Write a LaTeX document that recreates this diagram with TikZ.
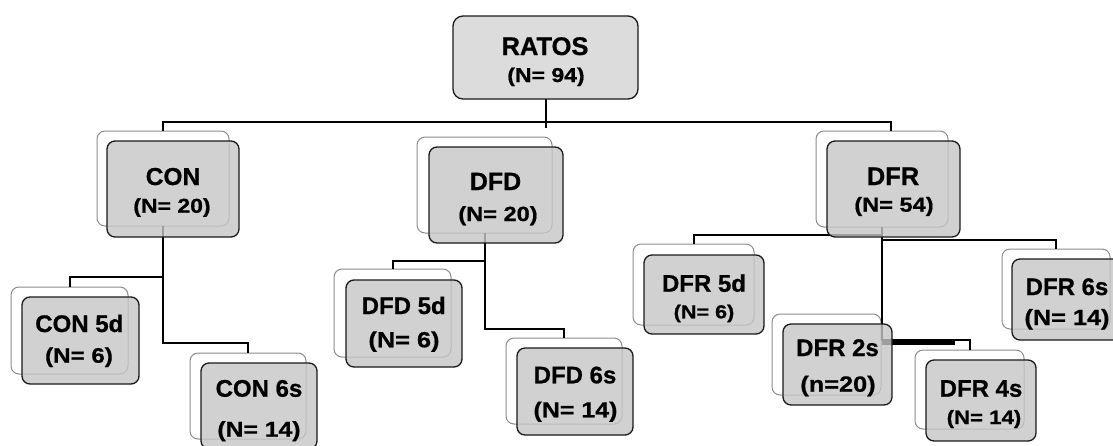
\documentclass[tikz,border=0pt]{standalone}
\usepackage{fontspec}
\setmainfont{Liberation Sans}[BoldFeatures={FakeBold=0.8}]
\newfontfamily\widefont{Liberation Sans}[FakeStretch=1.15,BoldFeatures={FakeBold=0.8}]
\newcommand\headf[1]{\fontsize{#1}{#1}\selectfont\bfseries}
\newcommand\countf[1]{\widefont\fontsize{#1}{#1}\selectfont\bfseries}
\definecolor{boxgray}{HTML}{C6C6C6}
\definecolor{rootgray}{HTML}{DCDCDC}
\definecolor{ghostline}{HTML}{8C8C8C}
\pgfdeclarelayer{under}
\pgfsetlayers{under,main}
\begin{document}
\begin{tikzpicture}[x=1pt,y=-1pt,
  frontbox/.style={rectangle, rounded corners=8pt, draw=black!90, line width=1.3pt,
    fill=boxgray, fill opacity=0.8, inner sep=0pt, outer sep=0pt},
  backbox/.style={rectangle, rounded corners=8pt, draw=ghostline, line width=1pt,
    fill=white, inner sep=0pt, outer sep=0pt},
  rootbox/.style={rectangle, rounded corners=10pt, draw=black!90, line width=1.3pt,
    fill=rootgray, inner sep=0pt, outer sep=0pt},
  txt/.style={anchor=base, inner sep=0pt, text=black},
  conn/.style={draw=black, line width=2pt},
  bar/.style={draw=black, line width=5pt}]
\useasboundingbox (0,0) rectangle (1113,445);

% root
\node[rootbox, minimum width=185, minimum height=83] (ratos) at (545.5,57.5) {};

% front boxes
\node[frontbox, minimum width=132, minimum height=96] (con)   at (173,189) {};
\node[frontbox, minimum width=134, minimum height=96] (dfd)   at (496,195) {};
\node[frontbox, minimum width=133, minimum height=96] (dfr)   at (893.5,189) {};
\node[frontbox, minimum width=117, minimum height=87] (con5d) at (80.5,340.5) {};
\node[frontbox, minimum width=116, minimum height=86] (con6s) at (259,406) {};
\node[frontbox, minimum width=116, minimum height=87] (dfd5d) at (404,323.5) {};
\node[frontbox, minimum width=116, minimum height=87] (dfd6s) at (575,391.5) {};
\node[frontbox, minimum width=120, minimum height=79] (dfr5d) at (704,294.5) {};
\node[frontbox, minimum width=109, minimum height=81] (dfr6s) at (1066.5,299.5) {};
\node[frontbox, minimum width=109, minimum height=81] (dfr2s) at (837.5,364.5) {};
\node[frontbox, minimum width=110, minimum height=81] (dfr4s) at (981,400.5) {};

\begin{pgfonlayer}{under}
% back boxes
\node[backbox, minimum width=132, minimum height=95] (con-b)   at (163,178.5) {};
\node[backbox, minimum width=135, minimum height=96] (dfd-b)   at (484.5,185) {};
\node[backbox, minimum width=132, minimum height=96] (dfr-b)   at (882,179) {};
\node[backbox, minimum width=117, minimum height=87] (con5d-b) at (69.5,330.5) {};
\node[backbox, minimum width=116, minimum height=86] (con6s-b) at (248,396) {};
\node[backbox, minimum width=117, minimum height=88] (dfd5d-b) at (392.5,313) {};
\node[backbox, minimum width=116, minimum height=86] (dfd6s-b) at (564,381) {};
\node[backbox, minimum width=121, minimum height=81] (dfr5d-b) at (693.5,284.5) {};
\node[backbox, minimum width=108, minimum height=80] (dfr6s-b) at (1056,289) {};
\node[backbox, minimum width=109, minimum height=81] (dfr2s-b) at (826.5,354.5) {};
\node[backbox, minimum width=109, minimum height=79] (dfr4s-b) at (969.5,389.5) {};

% connectors
\draw[conn] (ratos.south) -- ++(0,29);
\draw[conn] (con-b.north) -- ++(0,-9) -| ([xshift=9pt]dfr-b.north);

\draw[conn] (con-b.south) -- ++(0,117) -| (con6s-b.north);
\draw[conn] (con5d-b.north) -- ++(0,-10) -| (con-b.south);

\draw[conn] (dfd-b.south) -- ++(0,96) -| (dfd6s-b.north);
\draw[conn] (dfd5d-b.north) -- ++(0,-8) -| (dfd-b.south);

\draw[conn] (dfr5d-b.north) -- ++(0,-9) -| (dfr-b.south);
\draw[conn] (dfr6s-b.north) -- ++(0,-9) -| (dfr-b.south);
\draw[conn] (dfr-b.south) -- ++(0,113) -| (dfr4s-b.north);
\draw[bar] (dfr-b.south) ++(0,115) -- ++(73,0);
\end{pgfonlayer}

% labels
\node[txt, font=\headf{25.5}] (ratos-l1) at (545,55) {RATOS};
\node[txt, font=\countf{20}] (ratos-l2) at (546,82) {(N= 94)};

\node[txt, font=\headf{24.5}] (con-l1) at (173,185) {CON};
\node[txt, font=\countf{20}] (con-l2) at (172,212.7) {(N= 20)};

\node[txt, font=\headf{25}] (dfd-l1) at (495.5,190) {DFD};
\node[txt, font=\countf{20.5}] (dfd-l2) at (498,221) {(N= 20)};

\node[txt, font=\headf{25.5}] (dfr-l1) at (893,185) {DFR};
\node[txt, font=\countf{20.5}] (dfr-l2) at (894,211.7) {(N= 54)};

\node[txt, font=\headf{24}] (con5d-l1) at (79.3,332) {CON 5d};
\node[txt, font=\countf{21}] (con5d-l2) at (79,362.7) {(N= 6)};

\node[txt, font=\headf{24}] (con6s-l1) at (259,396.7) {CON 6s};
\node[txt, font=\countf{21.5}] (con6s-l2) at (259,436.7) {(N= 14)};

\node[txt, font=\headf{24}] (dfd5d-l1) at (403.7,314) {DFD 5d};
\node[txt, font=\countf{22}] (dfd5d-l2) at (404,347.3) {(N= 6)};

\node[txt, font=\headf{24}] (dfd6s-l1) at (575,383.3) {DFD 6s};
\node[txt, font=\countf{21.7}] (dfd6s-l2) at (575.5,417.3) {(N= 14)};

\node[txt, font=\headf{24}] (dfr5d-l1) at (704,291.7) {DFR 5d};
\node[txt, font=\countf{18.8}] (dfr5d-l2) at (704,318.3) {(N= 6)};

\node[txt, font=\headf{24}] (dfr6s-l1) at (1067,295) {DFR 6s};
\node[txt, font=\countf{22}] (dfr6s-l2) at (1067,325) {(N= 14)};

\node[txt, font=\headf{24}] (dfr2s-l1) at (837.5,356) {DFR 2s};
\node[txt, font=\countf{22}] (dfr2s-l2) at (838,391.7) {(n=20)};

\node[txt, font=\headf{24}] (dfr4s-l1) at (981,396.7) {DFR 4s};
\node[txt, font=\countf{19.3}] (dfr4s-l2) at (984,424) {(N= 14)};
\end{tikzpicture}
\end{document}
